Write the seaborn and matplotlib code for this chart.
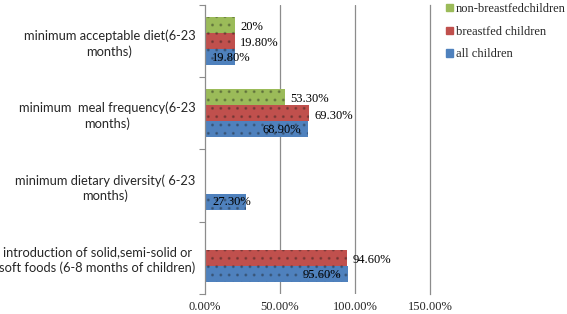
import matplotlib
matplotlib.use("Agg")
import matplotlib.pyplot as plt
import seaborn as sns
import pandas as pd
import numpy as np

# data
categories = [
    "minimum acceptable diet(6-23\nmonths)",
    "minimum  meal frequency(6-23\nmonths)",
    "minimum dietary diversity( 6-23\nmonths)",
    "introduction of solid,semi-solid or\nsoft foods (6-8 months of children)",
]
series = ["non-breastfedchildren", "breastfed children", "all children"]
non_breastfed = [20.0, 53.3, np.nan, np.nan]
breastfed = [19.8, 69.3, np.nan, 94.6]
all_children = [19.8, 68.9, 27.3, 95.6]
value_labels = {
    "non-breastfedchildren": ["20%", "53.30%", "", ""],
    "breastfed children": ["19.80%", "69.30%", "", "94.60%"],
    "all children": ["19.80%", "68.90%", "27.30%", "95.60%"],
}
x_ticks = [0, 50, 100, 150]
x_ticklabels = ["0.00%", "50.00%", "100.00%", "150.00%"]

colors = ["#9BBB59", "#C0504D", "#4F81BD"]

rows = []
for s, vals in zip(series, [non_breastfed, breastfed, all_children]):
    for c, v in zip(categories, vals):
        rows.append({"Category": c, "Series": s, "Value": v})
df = pd.DataFrame(rows)

sns.set_theme(style="white")

fig = plt.figure(figsize=(5.67, 3.14), dpi=100)
ax = fig.add_axes([0.3616, 0.064, 0.3968, 0.92])

sns.barplot(data=df, y="Category", x="Value", hue="Series",
            order=categories, hue_order=series, palette=colors,
            width=0.667, orient="h", saturation=1, ax=ax, errorbar=None,
            linewidth=0, legend=False)

# light dotted texture like the original
for bars in ax.containers:
    for b in bars:
        b.set_hatch("..")
        b.set_edgecolor((0.1, 0.1, 0.1, 0.28))
        b.set_linewidth(0)

serif = "Liberation Serif"

# data labels (NaN bars are dropped, so match each bar to its category by position)
for s, bars in zip(series, ax.containers):
    labs = value_labels[s]
    for b in bars:
        w = b.get_width()
        yc = b.get_y() + b.get_height() / 2
        lab = labs[int(round(yc))]
        if not lab or not np.isfinite(w):
            continue
        if s == "all children":
            ax.text(max(w - 4.5, 30.5), yc + 0.01, lab, ha="right", va="center",
                    fontsize=9, family=serif, color="black")
        else:
            ax.annotate(lab, (w, yc + 0.03), xytext=(4, 0), textcoords="offset points",
                        ha="left", va="center", fontsize=9, family=serif, color="black")

ax.set_xlim(0, 150)
ax.set_ylim(3.5, -0.5)
ax.set_xticks(x_ticks)
ax.set_xticklabels(x_ticklabels, family=serif, fontsize=9)
ax.set_yticks(range(len(categories)))
ax.set_yticklabels(categories, family="Lato", fontsize=9.3,
                   multialignment="center", linespacing=1.3)
ax.set_yticks(np.arange(-0.5, 4, 1), minor=True)
ax.tick_params(axis="y", which="major", length=0, pad=7)
ax.tick_params(axis="y", which="minor", length=4, color="#8c8c8c", width=0.8,
               direction="out", left=True)
ax.tick_params(axis="x", length=0, pad=5)
ax.set_xlabel("")
ax.set_ylabel("")

for xv in x_ticks[1:-1]:
    ax.axvline(xv, color="#8c8c8c", linewidth=0.9, zorder=0)

for side in ["top", "bottom"]:
    ax.spines[side].set_visible(False)
for side in ["left", "right"]:
    ax.spines[side].set_color("#8c8c8c")
    ax.spines[side].set_linewidth(0.9)

handles = [plt.Rectangle((0, 0), 1, 1, color=c) for c in colors]
fig.legend(handles, series, loc="upper left", bbox_to_anchor=(446 / 567, 0.99),
           frameon=False, handlelength=0.55, handleheight=0.55, handletextpad=0.25,
           labelspacing=0.85, borderpad=0, borderaxespad=0,
           prop={"family": serif, "size": 9})

fig.savefig("out.png", dpi=100)
